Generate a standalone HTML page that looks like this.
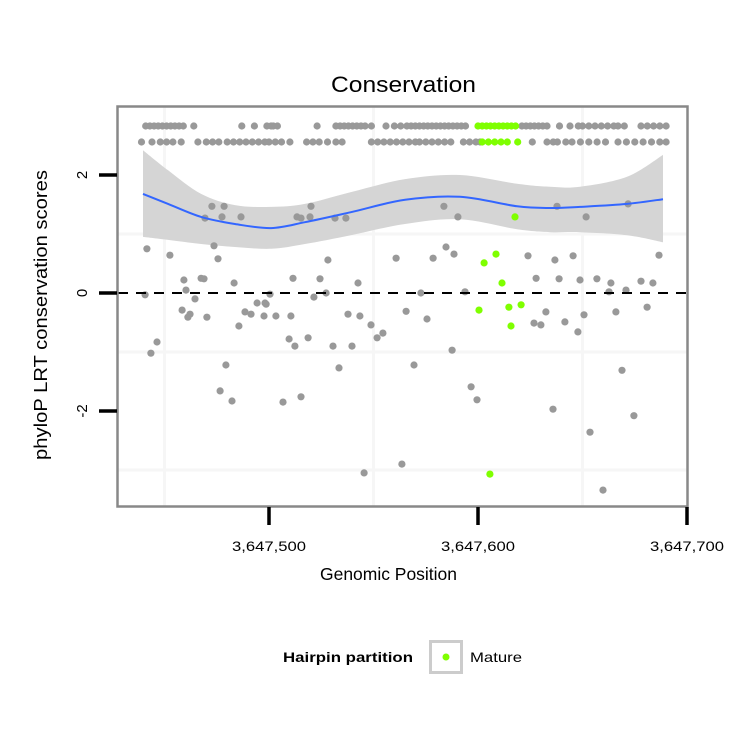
<!DOCTYPE html>
<html><head><meta charset="utf-8"><style>
html,body{margin:0;padding:0;background:#fff;}
svg{display:block;font-family:"Liberation Sans",sans-serif;}
</style></head><body>
<svg id="chart" width="750" height="750" viewBox="0 0 750 750" xmlns="http://www.w3.org/2000/svg">
<rect x="0" y="0" width="750" height="750" fill="#fff"/>
<text x="403.5" y="92" font-size="22" text-anchor="middle" textLength="145" lengthAdjust="spacingAndGlyphs" fill="#000">Conservation</text>
<g id="grid"></g>
<g id="band"></g>
<g id="points"></g>
<g id="axes"></g>
<text x="388.5" y="580" font-size="17.5" text-anchor="middle" textLength="137" lengthAdjust="spacingAndGlyphs">Genomic Position</text>
<text transform="translate(47,315) rotate(-90)" font-size="18.5" text-anchor="middle" textLength="290" lengthAdjust="spacingAndGlyphs">phyloP LRT conservation scores</text>
<g>
<text x="348" y="662" font-size="14" font-weight="bold" text-anchor="middle" textLength="130" lengthAdjust="spacingAndGlyphs">Hairpin partition</text>
<rect x="430.5" y="641.5" width="31" height="31" fill="#fff" stroke="#cccccc" stroke-width="3"/>
<circle cx="446" cy="657" r="3.5" fill="#7fff00"/>
<text x="470" y="662" font-size="14" textLength="52" lengthAdjust="spacingAndGlyphs">Mature</text>
</g>
</svg>
<script>
// data: positions as offsets from 3647400
var xBase = 3647400;
var xTicks = [3647500, 3647600, 3647700];
var xTickLabels = ["3,647,500", "3,647,600", "3,647,700"];
var yTicks = [2, 0, -2];
var yTickLabels = ["2", "0", "-2"];
var xGrid = [3647450, 3647550, 3647650];
var yGrid = [1, -1, -3];
var topRow1 = [41,43,45,47,49,51,53,55,57,59,64,87,93,99,101,102,104,123,132,134,136,138,140,142,144,146,149,156,160,163,166,168,170,172,174,176,178,180,182,184,186,188,190,192,194,221,223,225,227,229,231,233,239,244,248,250,253,256,259,262,265,267,270,278,281,284,287,290];
var topRow1Green = [200,202,204,206,208,210,212,214,216,218];
var topRow2 = [39,44,48,51,54,58,66,70,73,76,80,83,86,89,92,95,98,100,103,106,110,118,121,124,128,132,135,149,152,155,158,161,164,167,170,172,175,178,181,184,187,193,196,199,201,226,233,236,238,242,245,249,253,257,261,267,271,275,279,283,287,290];
var topRow2Green = [202,205,208,211,214,219];
var grayX = [41.6,40.7,43.5,46.4,52.6,59.3,58.4,60.3,62.2,61.2,64.6,67.5,68.9,69.4,70.3,72.7,73.7,75.6,76.6,77.5,78.5,79.4,82.3,83.3,85.6,86.6,88.5,91.4,94.3,98.1,97.6,98.6,100.5,103.3,106.7,109.6,110.5,111.5,112.4,113.4,115.3,115.3,118.7,119.6,120.1,121.5,124.4,127.3,128.2,130.6,131.6,133.5,136.8,137.8,139.7,142.6,143.5,145.5,148.8,151.7,154.5,160.8,163.6,165.6,169.4,172.7,175.6,178.5,183.7,184.7,187.6,188.5,190.4,193.8,196.7,199.5,223.9,226.8,230.1,227.8,232.5,235.9,236.8,237.8,238.8,241.6,245.5,247.8,248.8,250.7,251.7,253.6,256.9,259.8,262.7,263.6,266.0,268.9,270.8,271.8,274.6,278.0,280.9,283.7,286.6];
var grayY = [0.75,-0.03,-1.02,-0.83,0.64,0.22,-0.29,0.05,-0.36,-0.41,-0.10,0.25,0.24,1.27,-0.41,1.47,0.80,0.58,-1.66,1.29,1.47,-1.22,-1.83,0.17,-0.56,1.29,-0.32,-0.36,-0.17,-0.17,-0.39,-0.19,-0.02,-0.39,-1.85,-0.78,-0.39,0.25,-0.90,1.29,1.27,-1.76,-0.76,1.29,1.47,-0.07,0.24,0,0.56,-0.90,1.27,-1.27,1.27,-0.36,-0.90,0.17,-0.39,-3.05,-0.54,-0.76,-0.68,0.59,-2.90,-0.31,-1.22,0,-0.44,0.59,1.47,0.78,-0.97,0.66,1.29,0.02,-1.59,-1.81,0.63,-0.51,-0.54,0.25,-0.32,-1.97,0.56,1.47,0.24,-0.49,0.63,-0.66,0.22,-0.37,1.29,-2.36,0.24,-3.34,0.02,0.17,-0.32,-1.31,0.05,1.51,-2.08,0.20,-0.24,0.17,0.64];
var greenX = [200.5,202.9,205.7,208.6,211.5,214.8,215.8,217.7,220.6];
var greenY = [-0.29,0.51,-3.07,0.66,0.17,-0.24,-0.56,1.29,-0.20];
var smoothX = [39.7,51.7,67.5,83.7,101,117.2,139.2,165.1,191.4,218.7,234.4,248.8,271.3,288.5];
var smoothY = [1.68,1.51,1.29,1.17,1.10,1.20,1.37,1.58,1.63,1.47,1.44,1.46,1.51,1.59];
var bandUpper = [2.42,2.08,1.68,1.49,1.46,1.51,1.71,1.93,2.0,1.85,1.80,1.80,1.97,2.34];
var bandLower = [0.95,0.90,0.83,0.78,0.75,0.83,0.98,1.17,1.25,1.08,1.03,1.03,0.98,0.86];

var NS = "http://www.w3.org/2000/svg";
function xs(v){ return 269 + (v - 3647500) * 2.09; }
function xo(o){ return xs(xBase + o); }
function ys(v){ return 293 - v * 59; }
function mk(tag, attrs, parent){ var e = document.createElementNS(NS, tag); for (var k in attrs) e.setAttribute(k, attrs[k]); parent.appendChild(e); return e; }
function smoothPath(px, py, move){
  var d = (move ? "M" : "L") + px[0].toFixed(1) + "," + py[0].toFixed(1);
  for (var i = 0; i < px.length - 1; i++){
    var p0 = i > 0 ? i - 1 : i, p3 = i + 2 < px.length ? i + 2 : i + 1;
    var c1x = px[i] + (px[i+1] - px[p0]) / 6, c1y = py[i] + (py[i+1] - py[p0]) / 6;
    var c2x = px[i+1] - (px[p3] - px[i]) / 6, c2y = py[i+1] - (py[p3] - py[i]) / 6;
    d += " C" + c1x.toFixed(1) + "," + c1y.toFixed(1) + " " + c2x.toFixed(1) + "," + c2y.toFixed(1) + " " + px[i+1].toFixed(1) + "," + py[i+1].toFixed(1);
  }
  return d;
}
var grid = document.getElementById("grid");
xGrid.forEach(function(v){
  var l = mk("line", {x1: xs(v), x2: xs(v), y1: 107, y2: 506, stroke: "#f6f6f6", "stroke-width": 3}, grid);
  
  
});
yGrid.forEach(function(v){
  var l = mk("line", {x1: 118, x2: 687, y1: ys(v), y2: ys(v), stroke: "#f6f6f6", "stroke-width": 3}, grid);
  
  
});
var band = document.getElementById("band");
var bx = smoothX.map(xo);
var d = smoothPath(bx, bandUpper.map(ys), true);
d += " " + smoothPath(bx.slice().reverse(), bandLower.map(ys).reverse(), false) + " Z";
var bp = mk("path", {d: d, fill: "#d5d5d5", stroke: "none"}, band);



var pts = document.getElementById("points");
function dot(x, y, c, name){
  var e = mk("circle", {cx: xo(x).toFixed(1), cy: ys(y).toFixed(1), r: 3.6, fill: c}, pts);
  
  
}
topRow1.forEach(function(x){ dot(x, 2.83, "#999999", "top-row-point"); });
topRow2.forEach(function(x){ dot(x, 2.56, "#999999", "top-row-point"); });
grayX.forEach(function(x, i){ dot(x, grayY[i], "#999999", "score-point"); });
topRow1Green.forEach(function(x){ dot(x, 2.83, "#7fff00", "mature-top-point"); });
topRow2Green.forEach(function(x){ dot(x, 2.56, "#7fff00", "mature-top-point"); });
greenX.forEach(function(x, i){ dot(x, greenY[i], "#7fff00", "mature-point"); });

var sl = mk("path", {d: smoothPath(bx, smoothY.map(ys), true), fill: "none", stroke: "#3366ff", "stroke-width": 2}, pts);


var zl = mk("line", {x1: 118, x2: 687, y1: ys(0), y2: ys(0), stroke: "#000", "stroke-width": 2, "stroke-dasharray": "10,8"}, pts);



var axes = document.getElementById("axes");
var border = mk("rect", {x: 117.5, y: 106.5, width: 570, height: 400, fill: "none", stroke: "#888888", "stroke-width": 2.5}, axes);


yTicks.forEach(function(v, i){
  var t = mk("line", {x1: 99, x2: 117, y1: ys(v), y2: ys(v), stroke: "#000", "stroke-width": 3.5}, axes);
  
  
  var lb = mk("text", {transform: "translate(87," + ys(v) + ") rotate(-90)", "font-size": 15, "text-anchor": "middle"}, axes);
  lb.textContent = yTickLabels[i];
  
  
});
xTicks.forEach(function(v, i){
  var t = mk("line", {x1: xs(v), x2: xs(v), y1: 507, y2: 525, stroke: "#000", "stroke-width": 3.5}, axes);
  
  
  var lb = mk("text", {x: xs(v), y: 551, "font-size": 14, "text-anchor": "middle", textLength: 74, lengthAdjust: "spacingAndGlyphs"}, axes);
  lb.textContent = xTickLabels[i];
  
  
});
</script>
</body></html>
